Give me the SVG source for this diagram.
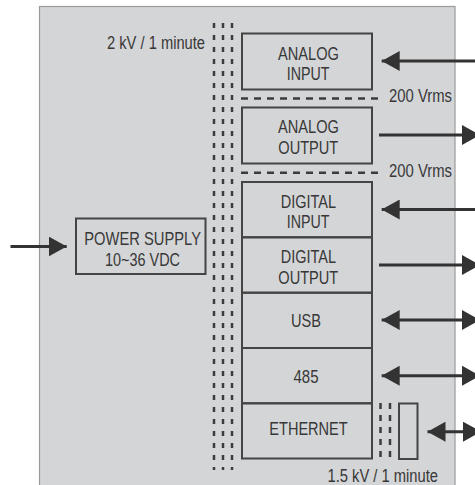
<svg xmlns="http://www.w3.org/2000/svg" width="475" height="485" viewBox="0 0 475 485">
<style>
.t{font-family:"Liberation Sans",Arial,sans-serif;font-size:17.5px;fill:#383838;}
.box{fill:none;stroke:#444;stroke-width:2;}
.vd{stroke:#3c3c3c;stroke-width:2.5;stroke-dasharray:5 7;}
.hd{stroke:#3c3c3c;stroke-width:2.5;stroke-dasharray:7 6;}
.ar{stroke:#333;stroke-width:3;fill:none;}
</style>
<defs>
<marker id="ah" markerUnits="userSpaceOnUse" markerWidth="20" markerHeight="20" refX="18" refY="10" orient="auto-start-reverse" viewBox="0 0 20 20">
<path d="M0,0 L18,10 L0,20 Z" fill="#333"/>
</marker>
</defs>
<rect x="0" y="0" width="475" height="485" fill="#fff"/>
<rect x="39.5" y="6.5" width="415.5" height="490" fill="#d4d5d7" stroke="#9a9a9a" stroke-width="1.2"/>

<g id="isolation">
<line class="vd" x1="214" y1="23" x2="214" y2="470"/>
<line class="vd" x1="223" y1="23" x2="223" y2="470"/>
<line class="vd" x1="232" y1="23" x2="232" y2="470"/>
<text class="t" x="107" y="48.5" textLength="98" lengthAdjust="spacingAndGlyphs">2 kV / 1 minute</text>
<line class="hd" x1="241" y1="98.5" x2="382" y2="98.5"/>
<text class="t" x="389" y="101.7" textLength="63" lengthAdjust="spacingAndGlyphs">200 Vrms</text>
<line class="hd" x1="241" y1="172.7" x2="382" y2="172.7"/>
<text class="t" x="389" y="176.5" textLength="63" lengthAdjust="spacingAndGlyphs">200 Vrms</text>
<line class="vd" x1="380.5" y1="403" x2="380.5" y2="458" style="stroke-dasharray:6 6"/>
<line class="vd" x1="390" y1="403" x2="390" y2="458" style="stroke-dasharray:6 6"/>
<rect class="box" x="399" y="403.5" width="18.5" height="55.5"/>
<text class="t" x="327.5" y="481.5" textLength="110.5" lengthAdjust="spacingAndGlyphs">1.5 kV / 1 minute</text>
</g>

<g id="power">
<rect class="box" x="76" y="218.5" width="129.5" height="55.5"/>
<text class="t" x="84.3" y="245" textLength="116.7" lengthAdjust="spacingAndGlyphs">POWER SUPPLY</text>
<text class="t" x="105" y="266" textLength="75" lengthAdjust="spacingAndGlyphs">10~36 VDC</text>
</g>

<g id="analog-input">
<rect class="box" x="242" y="33.5" width="130" height="56"/>
<text class="t" x="278" y="60" textLength="61" lengthAdjust="spacingAndGlyphs">ANALOG</text>
<text class="t" x="286.7" y="80" textLength="42.7" lengthAdjust="spacingAndGlyphs">INPUT</text>
</g>
<g id="analog-output">
<rect class="box" x="242" y="107.5" width="130" height="56"/>
<text class="t" x="278" y="133.3" textLength="61" lengthAdjust="spacingAndGlyphs">ANALOG</text>
<text class="t" x="278.3" y="154" textLength="60" lengthAdjust="spacingAndGlyphs">OUTPUT</text>
</g>
<g id="digital-input">
<rect class="box" x="242" y="182" width="130" height="55.3"/>
<text class="t" x="280.7" y="208.3" textLength="55.3" lengthAdjust="spacingAndGlyphs">DIGITAL</text>
<text class="t" x="286.7" y="228.3" textLength="42.7" lengthAdjust="spacingAndGlyphs">INPUT</text>
</g>
<g id="digital-output">
<rect class="box" x="242" y="237.3" width="130" height="55.4"/>
<text class="t" x="280.7" y="263.3" textLength="55.3" lengthAdjust="spacingAndGlyphs">DIGITAL</text>
<text class="t" x="278.3" y="284" textLength="60" lengthAdjust="spacingAndGlyphs">OUTPUT</text>
</g>
<g id="usb">
<rect class="box" x="242" y="292.7" width="130" height="55.3"/>
<text class="t" x="291" y="327" textLength="30" lengthAdjust="spacingAndGlyphs">USB</text>
</g>
<g id="rs485">
<rect class="box" x="242" y="348" width="130" height="55.3"/>
<text class="t" x="293.5" y="382.7" textLength="25" lengthAdjust="spacingAndGlyphs">485</text>
</g>
<g id="ethernet">
<rect class="box" x="242" y="403.3" width="130" height="55.2"/>
<text class="t" x="269.3" y="435" textLength="78.4" lengthAdjust="spacingAndGlyphs">ETHERNET</text>
</g>

<g id="connectors">
<line class="ar" x1="10.5" y1="246.5" x2="66.7" y2="246.5" marker-end="url(#ah)"/>
<line class="ar" x1="478" y1="61" x2="381.7" y2="61" marker-end="url(#ah)"/>
<line class="ar" x1="379" y1="135" x2="480" y2="135" marker-end="url(#ah)"/>
<line class="ar" x1="478" y1="209.5" x2="381.7" y2="209.5" marker-end="url(#ah)"/>
<line class="ar" x1="379" y1="265" x2="480" y2="265" marker-end="url(#ah)"/>
<line class="ar" x1="381.7" y1="320" x2="480" y2="320" marker-start="url(#ah)" marker-end="url(#ah)"/>
<line class="ar" x1="381.7" y1="375.7" x2="480" y2="375.7" marker-start="url(#ah)" marker-end="url(#ah)"/>
<line class="ar" x1="427.5" y1="431.7" x2="481" y2="431.7" marker-start="url(#ah)" marker-end="url(#ah)"/>
</g>
</svg>
